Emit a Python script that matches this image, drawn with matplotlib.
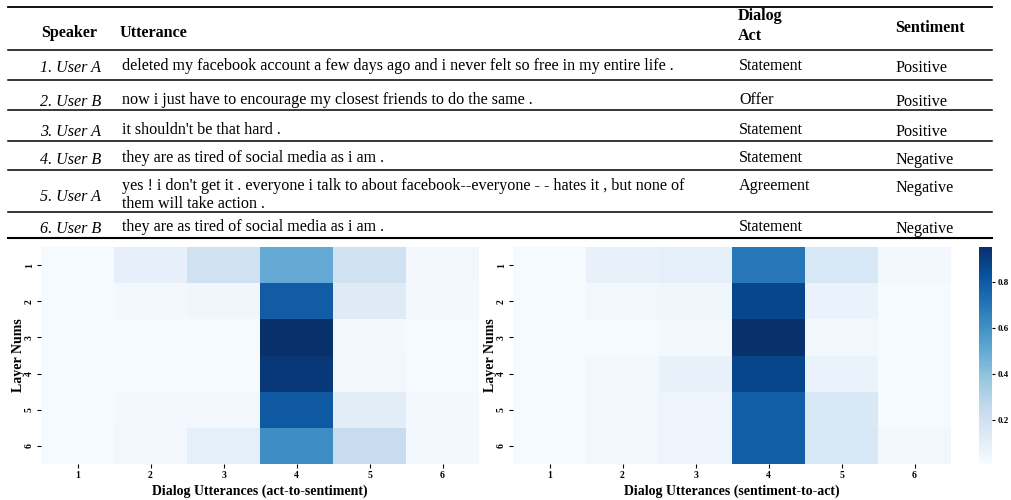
import numpy as np
import matplotlib
matplotlib.use("Agg")
import matplotlib.pyplot as plt
import seaborn as sns

plt.rcParams['font.family'] = ['Liberation Serif', 'DejaVu Serif']

# table content
speakers = ['1. User A', '2. User B', '3. User A', '4. User B', '5. User A', '6. User B']
utterances = [
    'deleted my facebook account a few days ago and i never felt so free in my entire life .',
    'now i just have to encourage my closest friends to do the same .',
    "it shouldn't be that hard .",
    'they are as tired of social media as i am .',
    "yes ! i don't get it . everyone i talk to about facebook--everyone - - hates it , but none of\nthem will take action .",
    'they are as tired of social media as i am .',
]
acts = ['Statement', 'Offer', 'Statement', 'Statement', 'Agreement', 'Statement']
sentiments = ['Positive', 'Positive', 'Positive', 'Negative', 'Negative', 'Negative']

# attention weights, rows = layers, cols = utterances
layers = [1, 2, 3, 4, 5, 6]
utt_ids = [1, 2, 3, 4, 5, 6]
act_to_sent = np.array([
    [0.02, 0.09, 0.20, 0.50, 0.20, 0.04],
    [0.02, 0.03, 0.05, 0.79, 0.13, 0.03],
    [0.02, 0.02, 0.02, 0.95, 0.03, 0.02],
    [0.02, 0.02, 0.02, 0.92, 0.04, 0.02],
    [0.02, 0.03, 0.04, 0.80, 0.11, 0.03],
    [0.02, 0.04, 0.10, 0.61, 0.24, 0.03],
])
sent_to_act = np.array([
    [0.02, 0.08, 0.10, 0.69, 0.16, 0.03],
    [0.02, 0.04, 0.05, 0.87, 0.07, 0.02],
    [0.02, 0.02, 0.03, 0.95, 0.04, 0.02],
    [0.02, 0.04, 0.08, 0.87, 0.07, 0.02],
    [0.02, 0.04, 0.06, 0.78, 0.15, 0.02],
    [0.02, 0.04, 0.06, 0.78, 0.16, 0.04],
])

W, H = 1011, 500
fig = plt.figure(figsize=(W / 100, H / 100), dpi=100)

# ---- table drawn in pixel coords ----
tab = fig.add_axes([0, 0, 1, 1])
tab.set_xlim(0, W)
tab.set_ylim(H, 0)
tab.axis('off')

for y, lw in [(7, 1.3), (50, 1.1), (80, 1.1), (110, 1.1), (141, 1.1), (170, 1.1), (212, 1.1), (238, 1.5)]:
    tab.plot([8, 992], [y, y], color='black', lw=lw)

fs = 11.6
tab.text(41, 33, 'Speaker', fontsize=fs, fontweight='bold', va='center')
tab.text(120, 33, 'Utterance', fontsize=fs, fontweight='bold', va='center')
tab.text(738, 26, 'Dialog\nAct', fontsize=fs, fontweight='bold', va='center', linespacing=1.35)
tab.text(895, 28, 'Sentiment', fontsize=fs, fontweight='bold', va='center')

row_y = [66, 100, 130, 158, 195, 227]
for i in range(len(speakers)):
    y = row_y[i]
    tab.text(40, y + 2, speakers[i], fontsize=fs, style='italic', va='center')
    tab.text(122, y, utterances[i], fontsize=fs, va='center', linespacing=1.15)
    ya = y - 9 if i == 4 else y
    tab.text(739, ya, acts[i], fontsize=fs, va='center')
    tab.text(895, ya + 2, sentiments[i], fontsize=fs, va='center')

# ---- heatmaps ----
vmin, vmax = 0.01, 0.95
bottom = (H - 464) / H
hgt = 217 / H
ax1 = fig.add_axes([41 / W, bottom, 438 / W, hgt])
ax2 = fig.add_axes([513 / W, bottom, 438 / W, hgt])
cax = fig.add_axes([979 / W, bottom, 13 / W, hgt])

sns.heatmap(act_to_sent, ax=ax1, cmap='Blues', vmin=vmin, vmax=vmax, cbar=False,
            xticklabels=utt_ids, yticklabels=layers)
sns.heatmap(sent_to_act, ax=ax2, cmap='Blues', vmin=vmin, vmax=vmax, cbar_ax=cax,
            xticklabels=utt_ids, yticklabels=layers)

for ax, name in [(ax1, 'Dialog Utterances (act-to-sentiment)'), (ax2, 'Dialog Utterances (sentiment-to-act)')]:
    ax.set_xlabel(name, fontsize=10, fontweight='bold', labelpad=3)
    ax.set_ylabel('Layer Nums', fontsize=10, fontweight='bold', labelpad=0)
    ax.tick_params(axis='both', labelsize=7, length=3, width=0.8, pad=2)
    for t in ax.get_xticklabels():
        t.set_fontweight('bold')
        t.set_rotation(0)
    for t in ax.get_yticklabels():
        t.set_fontweight('bold')
        t.set_rotation(90)
        t.set_va('center')

cax.tick_params(labelsize=6.5, length=2.5, width=0.8, pad=1.5)
cax.set_yticks([0.2, 0.4, 0.6, 0.8])
for t in cax.get_yticklabels():
    t.set_fontweight('bold')

fig.savefig('out.png', dpi=100)
